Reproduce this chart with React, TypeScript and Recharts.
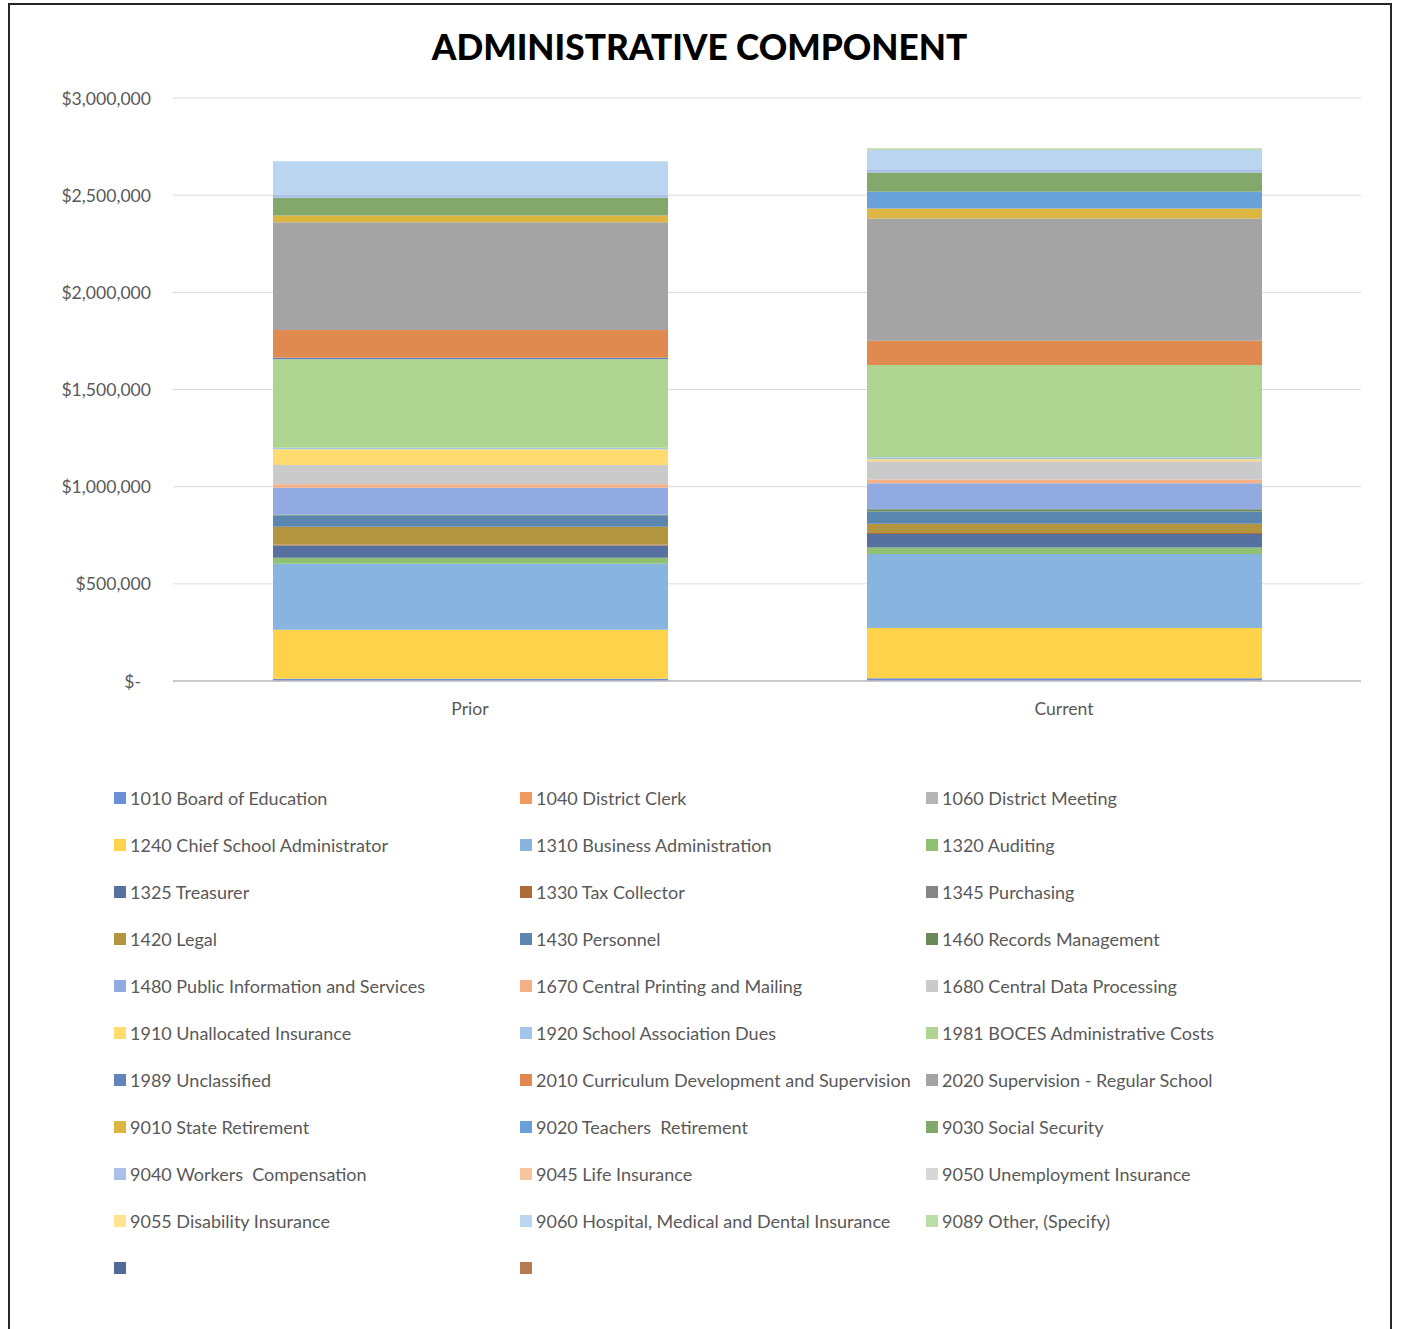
import React from "react";
import { BarChart, Bar, XAxis, YAxis, CartesianGrid } from "recharts";

const categories = ["Prior", "Current"];

const seriesNames = [
  "1010 Board of Education",
  "1040 District Clerk",
  "1060 District Meeting",
  "1240 Chief School Administrator",
  "1310 Business Administration",
  "1320 Auditing",
  "1325 Treasurer",
  "1330 Tax Collector",
  "1345 Purchasing",
  "1420 Legal",
  "1430 Personnel",
  "1460 Records Management",
  "1480 Public Information and Services",
  "1670 Central Printing and Mailing",
  "1680 Central Data Processing",
  "1910 Unallocated Insurance",
  "1920 School Association Dues",
  "1981 BOCES Administrative Costs",
  "1989 Unclassified",
  "2010 Curriculum Development and Supervision",
  "2020 Supervision - Regular School",
  "9010 State Retirement",
  "9020 Teachers  Retirement",
  "9030 Social Security",
  "9040 Workers  Compensation",
  "9045 Life Insurance",
  "9050 Unemployment Insurance",
  "9055 Disability Insurance",
  "9060 Hospital, Medical and Dental Insurance",
  "9089 Other, (Specify)",
  "",
  "",
];

const seriesColors = [
  "#6a8fd4", "#f09a60", "#b5b5b5",
  "#ffd24a", "#88b5e0", "#8fc172",
  "#5670a0", "#b06a3a", "#858585",
  "#b39540", "#5a86b0", "#6a8a58",
  "#91aadf", "#f5b088", "#cacaca",
  "#ffdb70", "#a2c6e9", "#afd492",
  "#6482bc", "#e08a50", "#a4a4a4",
  "#dcb640", "#67a1d8", "#82a86c",
  "#abc0e8", "#f7c4a0", "#d7d7d7",
  "#ffe38f", "#b9d5ef", "#bcdca8",
  "#52699a", "#b57a50",
];

const priorValues = [
  12000, 0, 0,
  252000, 339000, 31000,
  63000, 5000, 0,
  92000, 57000, 5000,
  138000, 19000, 98000,
  81000, 8000, 456000,
  7000, 143000, 554000,
  36000, 0, 91000,
  15000, 0, 0,
  0, 173000, 0,
  0, 0,
];

const currentValues = [
  14000, 0, 0,
  259000, 381000, 33000,
  69000, 5000, 0,
  48000, 63000, 12000,
  134000, 19000, 94000,
  10000, 10000, 475000,
  0, 125000, 629000,
  51000, 86000, 99000,
  17000, 0, 0,
  0, 99000, 10000,
  0, 0,
];

const yTicks = [0, 500000, 1000000, 1500000, 2000000, 2500000, 3000000];

const valuesByCategory = [priorValues, currentValues];
const data = categories.map((name, ci) => {
  const row: Record<string, string | number> = { name };
  seriesNames.forEach((_, si) => {
    row[`s${si}`] = valuesByCategory[ci][si];
  });
  return row;
});

const FONT = "Lato, 'Open Sans', sans-serif";
const TEXT = "#595959";

const YTick = (props: any) => {
  const { x, y, payload } = props;
  const v = payload.value as number;
  const label = v === 0 ? "$-" : "$" + v.toLocaleString("en-US");
  return (
    <text
      x={v === 0 ? x - 10 : x}
      y={y}
      textAnchor="end"
      dominantBaseline="central"
      fill={TEXT}
      fontSize={17.6}
      fontFamily={FONT}
    >
      {label}
    </text>
  );
};

const XTick = (props: any) => {
  const { x, payload } = props;
  return (
    <text
      x={x}
      y={708}
      textAnchor="middle"
      dominantBaseline="central"
      fill={TEXT}
      fontSize={17.6}
      fontFamily={FONT}
    >
      {payload.value}
    </text>
  );
};

const legendCols = [114, 520, 926];
const legendTop = 798;
const legendStep = 47;

export default function App() {
  return (
    <div
      style={{
        position: "absolute",
        left: 0,
        top: 0,
        width: 1403,
        height: 1329,
        overflow: "hidden",
        background: "#fff",
      }}
    >
      <div
        style={{
          position: "absolute",
          left: 8,
          top: 3,
          width: 1384,
          height: 1400,
          border: "2px solid #262626",
          boxSizing: "border-box",
        }}
      />
      <div
        style={{
          position: "absolute",
          left: 0,
          top: 46,
          width: 1399,
          textAlign: "center",
          fontFamily: FONT,
          fontWeight: 900,
          fontSize: 35.2,
          lineHeight: "36px",
          marginTop: -18,
          color: "#000",
        }}
      >
        ADMINISTRATIVE COMPONENT
      </div>
      <div style={{ position: "absolute", left: 0, top: 0 }}>
        <BarChart
          width={1403}
          height={1329}
          data={data}
          margin={{ top: 98, right: 42, left: 0, bottom: 608 }}
        >
          <CartesianGrid horizontal={true} vertical={false} stroke="#d9d9d9" />
          <XAxis
            dataKey="name"
            height={40}
            axisLine={{ stroke: "#bfbfbf", strokeWidth: 1.5 }}
            tickLine={false}
            tick={<XTick />}
          />
          <YAxis
            width={173}
            domain={[0, 3000000]}
            ticks={yTicks}
            axisLine={false}
            tickLine={false}
            tickMargin={16}
            tick={<YTick />}
          />
          {seriesNames.map((n, si) => (
            <Bar
              key={si}
              dataKey={`s${si}`}
              name={n}
              stackId="a"
              fill={seriesColors[si]}
              barSize={395}
              isAnimationActive={false}
            />
          ))}
        </BarChart>
      </div>
      {seriesNames.map((n, si) => {
        const col = si % 3;
        const row = Math.floor(si / 3);
        const cy = legendTop + row * legendStep;
        return (
          <div
            key={si}
            style={{
              position: "absolute",
              left: legendCols[col],
              top: cy - 12,
              height: 24,
              display: "flex",
              alignItems: "center",
              fontFamily: FONT,
              fontSize: 18,
              color: TEXT,
              whiteSpace: "pre",
            }}
          >
            <span
              style={{
                display: "inline-block",
                width: 12,
                height: 12,
                background: seriesColors[si],
                marginRight: 4,
              }}
            />
            <span>{n}</span>
          </div>
        );
      })}
    </div>
  );
}
